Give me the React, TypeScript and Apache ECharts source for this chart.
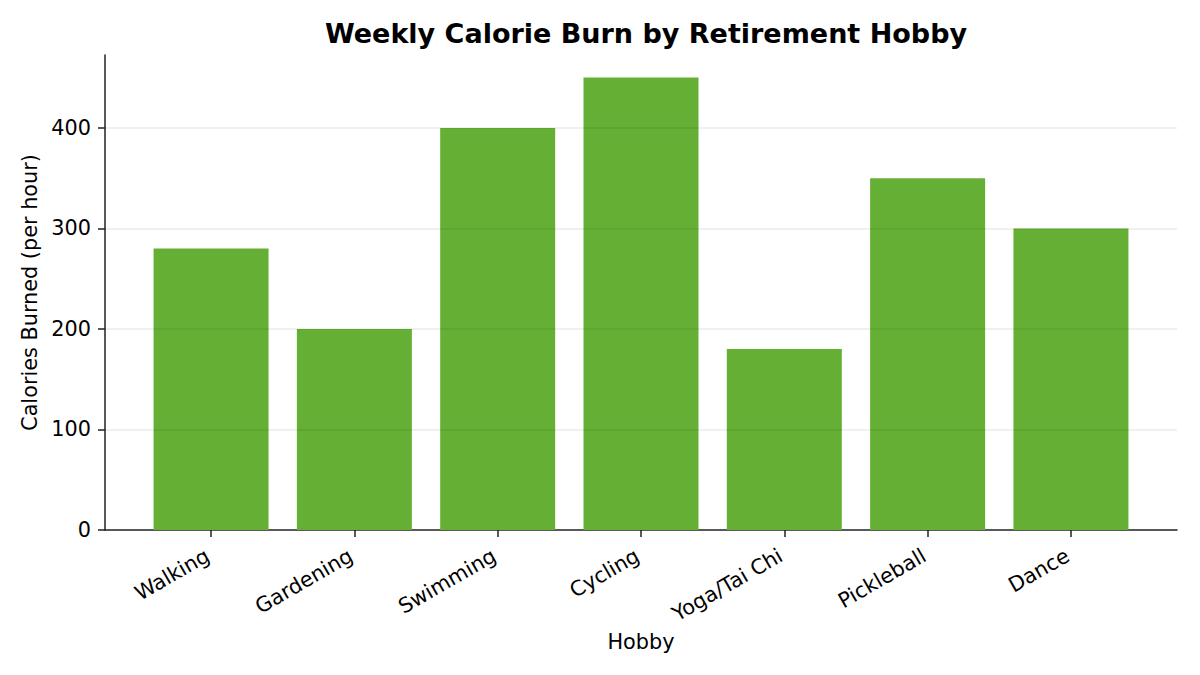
import React, { useRef, useEffect } from 'react';
import * as echarts from 'echarts';

const HOBBIES = ['Walking', 'Gardening', 'Swimming', 'Cycling', 'Yoga/Tai Chi', 'Pickleball', 'Dance'];
const CALORIES = [280, 200, 400, 450, 180, 350, 300];
const Y_TICKS = [0, 100, 200, 300, 400];

const FONT = "'DejaVu Sans', sans-serif";
const BAR_COLOR = '#66af35';
const LABEL_SIZE = 20.8;

export default function App() {
  const chartRef = useRef<HTMLDivElement>(null);

  useEffect(() => {
    document.body.style.margin = '0';
    if (!chartRef.current) return;
    const chart = echarts.init(chartRef.current, undefined, { renderer: 'svg' });

    const idx = HOBBIES.map((_, i) => i);

    const option: echarts.EChartsOption = {
      animation: false,
      backgroundColor: '#ffffff',
      textStyle: { fontFamily: FONT },
      title: {
        text: 'Weekly Calorie Burn by Retirement Hobby',
        left: 641,
        top: 15,
        textAlign: 'center',
        textStyle: { fontFamily: FONT, fontSize: 27, fontWeight: 'bold', color: '#000' },
      },
      grid: { left: 105, right: 23, top: 55, bottom: 145 },
      xAxis: {
        type: 'value',
        min: -0.74,
        max: 6.74,
        name: 'Hobby',
        nameLocation: 'middle',
        nameGap: 97,
        nameTextStyle: { fontFamily: FONT, fontSize: LABEL_SIZE, color: '#000' },
        axisLine: { show: true, onZero: false, lineStyle: { color: '#222', width: 1.5 } },
        axisTick: { show: true, customValues: idx, length: 7, lineStyle: { color: '#222', width: 1.5 } },
        axisLabel: {
          customValues: idx,
          rotate: 30,
          margin: 22,
          padding: [0, 4, 0, 0],
          fontFamily: FONT,
          fontSize: LABEL_SIZE,
          color: '#000',
          formatter: (v: number) => HOBBIES[Math.round(v)] ?? '',
        },
        splitLine: { show: false },
      },
      yAxis: {
        type: 'value',
        min: 0,
        max: 472.5,
        z: 3,
        name: 'Calories Burned (per hour)',
        nameLocation: 'middle',
        nameGap: 61,
        nameTextStyle: { fontFamily: FONT, fontSize: LABEL_SIZE, color: '#000' },
        axisLine: { show: true, onZero: false, lineStyle: { color: '#222', width: 1.5 } },
        axisTick: { show: true, customValues: Y_TICKS, length: 7, lineStyle: { color: '#222', width: 1.5 } },
        axisLabel: {
          customValues: Y_TICKS,
          margin: 14,
          fontFamily: FONT,
          fontSize: LABEL_SIZE,
          color: '#000',
        },
        splitLine: { show: false },
      },
      series: [
        {
          type: 'bar',
          barWidth: 115,
          itemStyle: { color: BAR_COLOR },
          data: CALORIES.map((v, i) => [i, v]),
          z: 2,
        },
        {
          // horizontal grid lines drawn over the bars
          type: 'line',
          data: [],
          z: 4,
          markLine: {
            silent: true,
            symbol: 'none',
            label: { show: false },
            lineStyle: { color: 'rgba(0,0,0,0.08)', type: 'solid', width: 1.5 },
            data: Y_TICKS.filter(t => t > 0).map(t => ({ yAxis: t })),
          },
        },
      ],
    };

    chart.setOption(option);
    return () => chart.dispose();
  }, []);

  return <div ref={chartRef} style={{ width: 1200, height: 675 }} />;
}
